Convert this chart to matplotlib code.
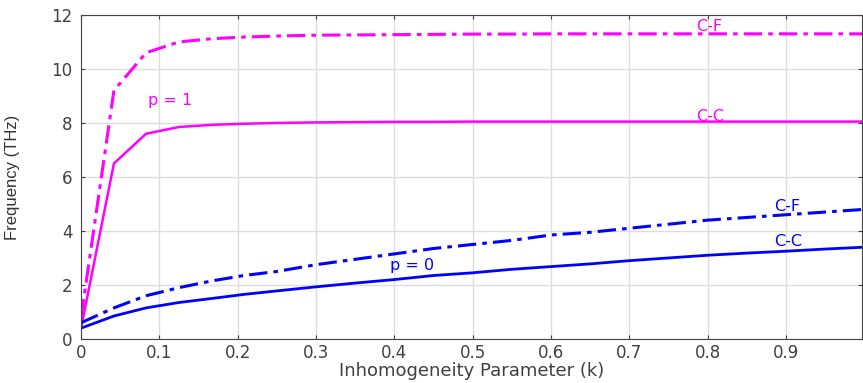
import matplotlib
matplotlib.use("Agg")
import matplotlib.pyplot as plt

k = [0, 0.042, 0.083, 0.125, 0.167, 0.208, 0.25, 0.3, 0.35, 0.4, 0.45, 0.5,
     0.55, 0.6, 0.65, 0.7, 0.75, 0.8, 0.85, 0.9, 0.95, 1.0]
p1_cf = [0.8, 9.2, 10.6, 11.0, 11.12, 11.18, 11.22, 11.25, 11.26, 11.27, 11.28, 11.29,
         11.29, 11.3, 11.3, 11.3, 11.3, 11.3, 11.3, 11.3, 11.3, 11.3]
p1_cc = [0.4, 6.5, 7.6, 7.85, 7.93, 7.97, 8.0, 8.02, 8.03, 8.04, 8.04, 8.05,
         8.05, 8.05, 8.05, 8.05, 8.05, 8.05, 8.05, 8.05, 8.05, 8.05]
p0_cf = [0.6, 1.15, 1.6, 1.9, 2.15, 2.35, 2.5, 2.75, 2.95, 3.15, 3.35, 3.5,
         3.65, 3.85, 3.95, 4.1, 4.25, 4.4, 4.5, 4.6, 4.7, 4.8]
p0_cc = [0.4, 0.85, 1.15, 1.35, 1.5, 1.65, 1.78, 1.93, 2.07, 2.2, 2.35, 2.45,
         2.58, 2.68, 2.78, 2.9, 3.0, 3.1, 3.18, 3.25, 3.33, 3.4]
xticks = [0, 0.1, 0.2, 0.3, 0.4, 0.5, 0.6, 0.7, 0.8, 0.9]
yticks = [0, 2, 4, 6, 8, 10, 12]

plt.rcParams['font.family'] = ['DejaVu Sans']
fig = plt.figure(figsize=(8.63, 3.83), dpi=100)
ax = fig.add_axes([0.0939, 0.115, 0.905, 0.846])

mag = '#ff00ff'
blue = '#0000ff'
ax.plot(k, p1_cf, color=mag, lw=2.2, ls=(0, (6, 2, 1.5, 2)))
ax.plot(k, p1_cc, color=mag, lw=1.8, ls='-')
ax.plot(k, p0_cf, color=blue, lw=2.2, ls=(0, (6, 2, 1.5, 2)))
ax.plot(k, p0_cc, color=blue, lw=2.0, ls='-')

ax.text(0.085, 8.65, 'p = 1', color=mag, fontsize=11.5)
ax.text(0.785, 11.4, 'C-F', color=mag, fontsize=11.5)
ax.text(0.785, 8.08, 'C-C', color=mag, fontsize=11.5)
ax.text(0.885, 4.75, 'C-F', color=blue, fontsize=11.5)
ax.text(0.885, 3.45, 'C-C', color=blue, fontsize=11.5)
ax.text(0.395, 2.55, 'p = 0', color=blue, fontsize=11.5)

ax.set_xlim(0, 0.997)
ax.set_ylim(0, 12)
ax.set_xticks(xticks)
ax.set_xticklabels([f'{t:g}' for t in xticks])
ax.set_yticks(yticks)
ax.grid(True, color='#dddddd', lw=1)
ax.tick_params(direction='in', colors='#404040', labelcolor='#404040', labelsize=12,
               top=True, right=True, length=3)
ax.tick_params(axis='y', pad=6)
for s in ax.spines.values():
    s.set_color('#444444')
ax.set_xlabel('Inhomogeneity Parameter (k)', fontsize=13, color='#404040', labelpad=0)
ax.set_ylabel('Frequency (THz)', fontsize=12, color='#333333',
              family=['Liberation Sans Narrow', 'Liberation Sans', 'DejaVu Sans'])
ax.yaxis.set_label_coords(-0.078, 0.5)

fig.savefig('out.png', dpi=100)
